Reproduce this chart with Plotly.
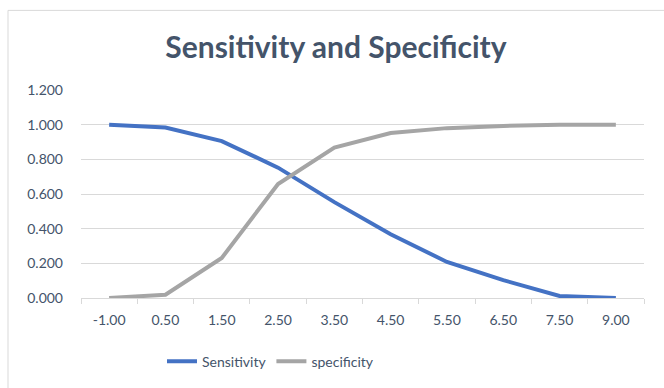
import plotly.graph_objects as go

categories = ["-1.00", "0.50", "1.50", "2.50", "3.50", "4.50", "5.50", "6.50", "7.50", "9.00"]
sensitivity = [1.000, 0.983, 0.905, 0.752, 0.553, 0.368, 0.208, 0.103, 0.012, 0.000]
specificity = [0.000, 0.019, 0.231, 0.658, 0.868, 0.952, 0.980, 0.993, 1.000, 1.000]
y_ticks = [0.0, 0.2, 0.4, 0.6, 0.8, 1.0, 1.2]

FONT = "Lato"
TXT = "#44546A"
fig = go.Figure()
fig.add_trace(go.Scatter(x=categories, y=sensitivity, mode="lines", name="Sensitivity",
                         line=dict(color="#4472C4", width=4)))
fig.add_trace(go.Scatter(x=categories, y=specificity, mode="lines", name="specificity",
                         line=dict(color="#A5A5A5", width=4)))

fig.update_layout(
    width=664, height=388,
    margin=dict(l=81, r=20, t=90, b=89),
    paper_bgcolor="white", plot_bgcolor="white",
    title=dict(text="<b>Sensitivity and Specificity</b>", x=0.506, xanchor="center",
               y=0.878, yanchor="middle",
               font=dict(family=FONT, size=30, color=TXT)),
    font=dict(family=FONT, size=14, color=TXT),
    showlegend=True,
    legend=dict(orientation="h", x=(162 - 81) / 563, xanchor="left", y=-0.3, yanchor="middle",
                font=dict(family=FONT, size=14, color=TXT),
                itemwidth=30, tracegroupgap=0),
    xaxis=dict(type="category", range=[-0.5, 9.5], showgrid=False,
               tickson="boundaries", ticks="outside", ticklen=5, tickcolor="#D9D9D9",
               showline=True, linecolor="#D9D9D9", linewidth=1, ticklabelstandoff=9,
               tickfont=dict(family=FONT, size=14, color=TXT), zeroline=False),
    yaxis=dict(range=[0, 1.2], tickvals=y_ticks, tickformat=".3f",
               showgrid=True, gridcolor="#D9D9D9", gridwidth=1, zeroline=False,
               ticks="", ticklabelstandoff=17,
               tickfont=dict(family=FONT, size=14, color=TXT)),
    shapes=[dict(type="rect", xref="paper", yref="paper",
                 x0=-73 / 563, x1=(664 - 81 + 10) / 563, y0=-(388 - 299 + 10) / 209, y1=(299 - 10) / 209,
                 line=dict(color="#D9D9D9", width=1), fillcolor="rgba(0,0,0,0)", layer="below")],
)

fig.write_html("out.html", config={"displayModeBar": False},
               post_script="document.body.style.margin='0';")
